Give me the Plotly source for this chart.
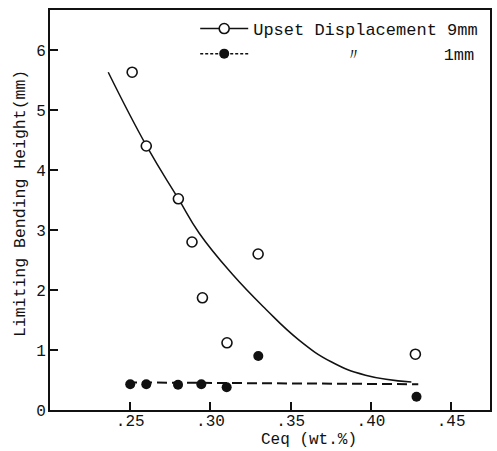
import plotly.graph_objects as go

# Data
open_x = [0.2512, 0.2600, 0.2800, 0.2885, 0.2950, 0.3103, 0.3297, 0.4277]
open_y = [5.63, 4.40, 3.52, 2.80, 1.87, 1.12, 2.60, 0.93]

filled_x = [0.2500, 0.2600, 0.2798, 0.2943, 0.3101, 0.3298, 0.4284]
filled_y = [0.43, 0.43, 0.42, 0.43, 0.38, 0.90, 0.22]

curve_x = [0.2363, 0.2606, 0.2798, 0.2929, 0.3134, 0.3345, 0.3550, 0.3755, 0.3966, 0.4252]
curve_y = [5.63, 4.38, 3.53, 2.95, 2.27, 1.68, 1.17, 0.80, 0.58, 0.467]

dash_x = [0.2480, 0.4295]
dash_y = [0.46, 0.43]

x_tickvals = [0.25, 0.30, 0.35, 0.40, 0.45]
x_ticktext = [".25", ".30", ".35", ".40", ".45"]
y_tickvals = [0, 1, 2, 3, 4, 5, 6]
y_ticktext = ["0", "1", "2", "3", "4", "5", "6"]

legend_names = ["Upset\u00a0Displacement\u00a09mm",
                "\u00a0" * 9 + "\u3003" + "\u00a0" * 8 + "1mm"]

FONT = "Liberation Mono, DejaVu Sans Mono, monospace"
BLACK = "#111111"

fig = go.Figure()

fig.add_trace(go.Scatter(x=curve_x, y=curve_y, mode="lines",
                         line=dict(color=BLACK, width=1.5, shape="spline", smoothing=1.3),
                         showlegend=False, hoverinfo="skip"))
fig.add_trace(go.Scatter(x=dash_x, y=dash_y, mode="lines",
                         line=dict(color=BLACK, width=2, dash="10px,5px"),
                         showlegend=False, hoverinfo="skip"))
fig.add_trace(go.Scatter(x=open_x, y=open_y, mode="markers",
                         marker=dict(symbol="circle", size=10, color="white",
                                     line=dict(color=BLACK, width=1.6)),
                         showlegend=False))
fig.add_trace(go.Scatter(x=filled_x, y=filled_y, mode="markers",
                         marker=dict(symbol="circle", size=10, color=BLACK,
                                     line=dict(color=BLACK, width=0)),
                         showlegend=False))

# legend-only entries
fig.add_trace(go.Scatter(x=[None], y=[None], mode="lines+markers", name=legend_names[0],
                         line=dict(color=BLACK, width=1.5),
                         marker=dict(symbol="circle", size=10, color="white",
                                     line=dict(color=BLACK, width=1.6))))
fig.add_trace(go.Scatter(x=[None], y=[None], mode="lines+markers", name=legend_names[1],
                         line=dict(color=BLACK, width=1.5, dash="3px,2px"),
                         marker=dict(symbol="circle", size=10, color=BLACK)))

axis_common = dict(showline=True, linecolor=BLACK, linewidth=2, mirror=True,
                   ticks="inside", ticklen=8, tickwidth=1.5, tickcolor=BLACK,
                   showgrid=False, zeroline=False,
                   tickfont=dict(family=FONT, size=16, color=BLACK))

fig.update_layout(
    width=497, height=451,
    margin=dict(l=50, r=5, t=10, b=41),
    paper_bgcolor="white", plot_bgcolor="white",
    font=dict(family=FONT, size=16, color=BLACK),
    xaxis=dict(range=[0.2, 0.4742], tickvals=x_tickvals, ticktext=x_ticktext,
               ticklabelstandoff=-5, **axis_common),
    yaxis=dict(range=[0, 6.667], tickvals=y_tickvals, ticktext=y_ticktext,
               ticklabelstandoff=-1, **axis_common),
    legend=dict(x=0.33, y=0.9975, xanchor="left", yanchor="top",
                bgcolor="rgba(0,0,0,0)", borderwidth=0,
                font=dict(family=FONT, size=17, color=BLACK),
                itemwidth=48, tracegroupgap=0),
    annotations=[
        dict(text="Limiting Bending Height(mm)", xref="paper", yref="paper",
             x=-0.068, y=0.515, xanchor="center", yanchor="middle",
             textangle=-90, showarrow=False,
             font=dict(family=FONT, size=16.5, color=BLACK)),
        dict(text="Ceq (wt.%)", xref="paper", yref="paper",
             x=0.588, y=-0.075, xanchor="center", yanchor="middle",
             showarrow=False,
             font=dict(family=FONT, size=16, color=BLACK)),
    ],
)

fig.write_html("out.html", config={"displayModeBar": False},
               post_script="document.body.style.margin='0';document.body.style.overflow='hidden';")
